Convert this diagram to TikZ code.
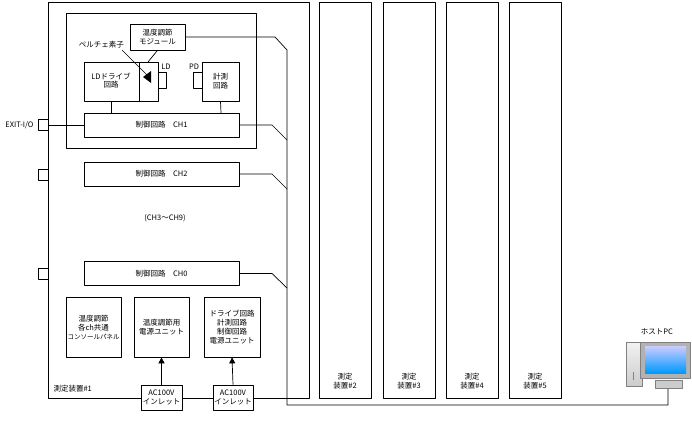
\documentclass[tikz,border=0pt]{standalone}
\usepackage{fontspec}
\setmainfont{Noto Sans CJK JP}
\usetikzlibrary{arrows.meta}
\begin{document}
\begin{tikzpicture}[x=1pt,y=-1pt,join=round,font=\fontsize{7.5}{9}\selectfont,
  box/.style={draw,thick,line width=0.7pt,align=center,inner sep=0pt},
  port/.style={draw,line width=0.7pt},
  bus/.style={line width=0.7pt}]
  \useasboundingbox (0,0) rectangle (692,423);
  % frames
  \draw[line width=0.8pt] (48,2) rectangle (309,398);
  \draw[line width=0.7pt] (66,13) rectangle (256,148);
  \foreach \xa/\xb/\n in {319/371/2,383/435/3,446/498/4,509/561/5}{
    \draw[line width=0.8pt] (\xa,2) rectangle (\xb,398);
    \node[align=center] (dev\n) at ({(\xa+\xb)/2},381) {測定\\装置\#\n};
  }
  \node[anchor=west] (dev1) at (50,389) {測定装置\#1};
  % channel 1 internals
  \node[box,minimum width=55pt,minimum height=26pt] (mod) at (157.5,37) {温度調節\\モジュール};
  \draw[box] (84,62) rectangle (158,101);
  \draw[line width=0.7pt] (139,62) -- (139,101);
  \node[align=center] (ldd) at (111,81) {LDドライブ\\[-1pt]回路};
  \node[box,minimum width=37pt,minimum height=39pt] (meas) at (220.5,81.5) {計測\\回路};
  \draw[port] (158,72) rectangle (166,88);
  \draw[port] (193,72) rectangle (202,88);
  \node (ld) at (166,67) {LD};
  \node (pd) at (194,67) {PD};
  \fill (143,77) -- (151,71) -- (151,83) -- cycle;
  \node[anchor=east,inner sep=0pt] (pel) at (124,45) {ペルチェ素子};
  \draw[line width=0.5pt] (122,50) -- (147,75);
  \node[box,minimum width=155pt,minimum height=24pt] (ch1) at (161.5,125) {制御回路\quad CH1};
  \node[box,minimum width=155pt,minimum height=24pt] (ch2) at (161.5,174) {制御回路\quad CH2};
  \node[box,minimum width=155pt,minimum height=24pt] (ch0) at (161.5,273.5) {制御回路\quad CH0};
  \node (mid) at (165,218) {(CH3～CH9)};
  \draw[bus] (mod.south) -- (148,62);
  \draw[bus] (111,101) -- (111,113);
  \draw[bus] (meas.south) -- (221,113);
  % ports on the left
  \foreach \y/\nm in {125/p1,175/p2,274/p0}{
    \draw[port] (38,\y-5.5) rectangle (48,\y+5.5);
    \coordinate (\nm) at (48,\y);
  }
  \draw[bus] (p1) -- (ch1.west);
  \node[anchor=east] (exio) at (37,125) {EXIT-I/O};
  % bus
  \draw[bus] (mod.east) -- (275,37) -- (287,50) -- (287,405) -- (668,405) -- (668,388);
  \draw[bus] (ch1.east) -- (272,125) -- (287,140);
  \draw[bus] (ch2.east) -- (272,174) -- (287,189);
  \draw[bus] (ch0.east) -- (272,273.5) -- (287,288);
  % bottom units
  \node[box,minimum width=55pt,minimum height=60pt] (panel) at (93.5,327) {温度調節\\各ch共通\\{\fontsize{6.5}{8}\selectfont コンソールパネル}};
  \node[box,minimum width=55pt,minimum height=60pt] (tpsu) at (161.5,327) {温度調節用\\電源ユニット};
  \node[box,minimum width=56pt,minimum height=60pt] (psu) at (232,327) {ドライブ回路\\計測回路\\制御回路\\電源ユニット};
  \node[box,fill=white,minimum width=41pt,minimum height=25pt] (in1) at (161.5,397.5) {AC100V\\インレット};
  \node[box,fill=white,minimum width=40pt,minimum height=25pt] (in2) at (233,397.5) {AC100V\\インレット};
  \draw[bus,-{Triangle[length=6pt,width=6pt]}] (in1.north) -- (tpsu.south);
  \draw[bus,-{Triangle[length=6pt,width=6pt]}] (in2.north) -- (psu.south);
  % host PC
  \node (hostlbl) at (657,332) {ホストPC};
  \shade[top color=gray!10,bottom color=gray!40,draw=gray] (626,342) rectangle (642,386);
  \fill[red!70] (633,372) rectangle (634,380);
  \fill[gray!60,draw=gray] (640,342) rectangle (690,378);
  \shade[top color=blue!20,bottom color=cyan!60!blue] (645,346) rectangle (686,373);
  \fill[gray!40,draw=gray] (655,380) rectangle (682,388);
  \node[inner sep=0pt] (pc) at (668,388) {};
\end{tikzpicture}
\end{document}
